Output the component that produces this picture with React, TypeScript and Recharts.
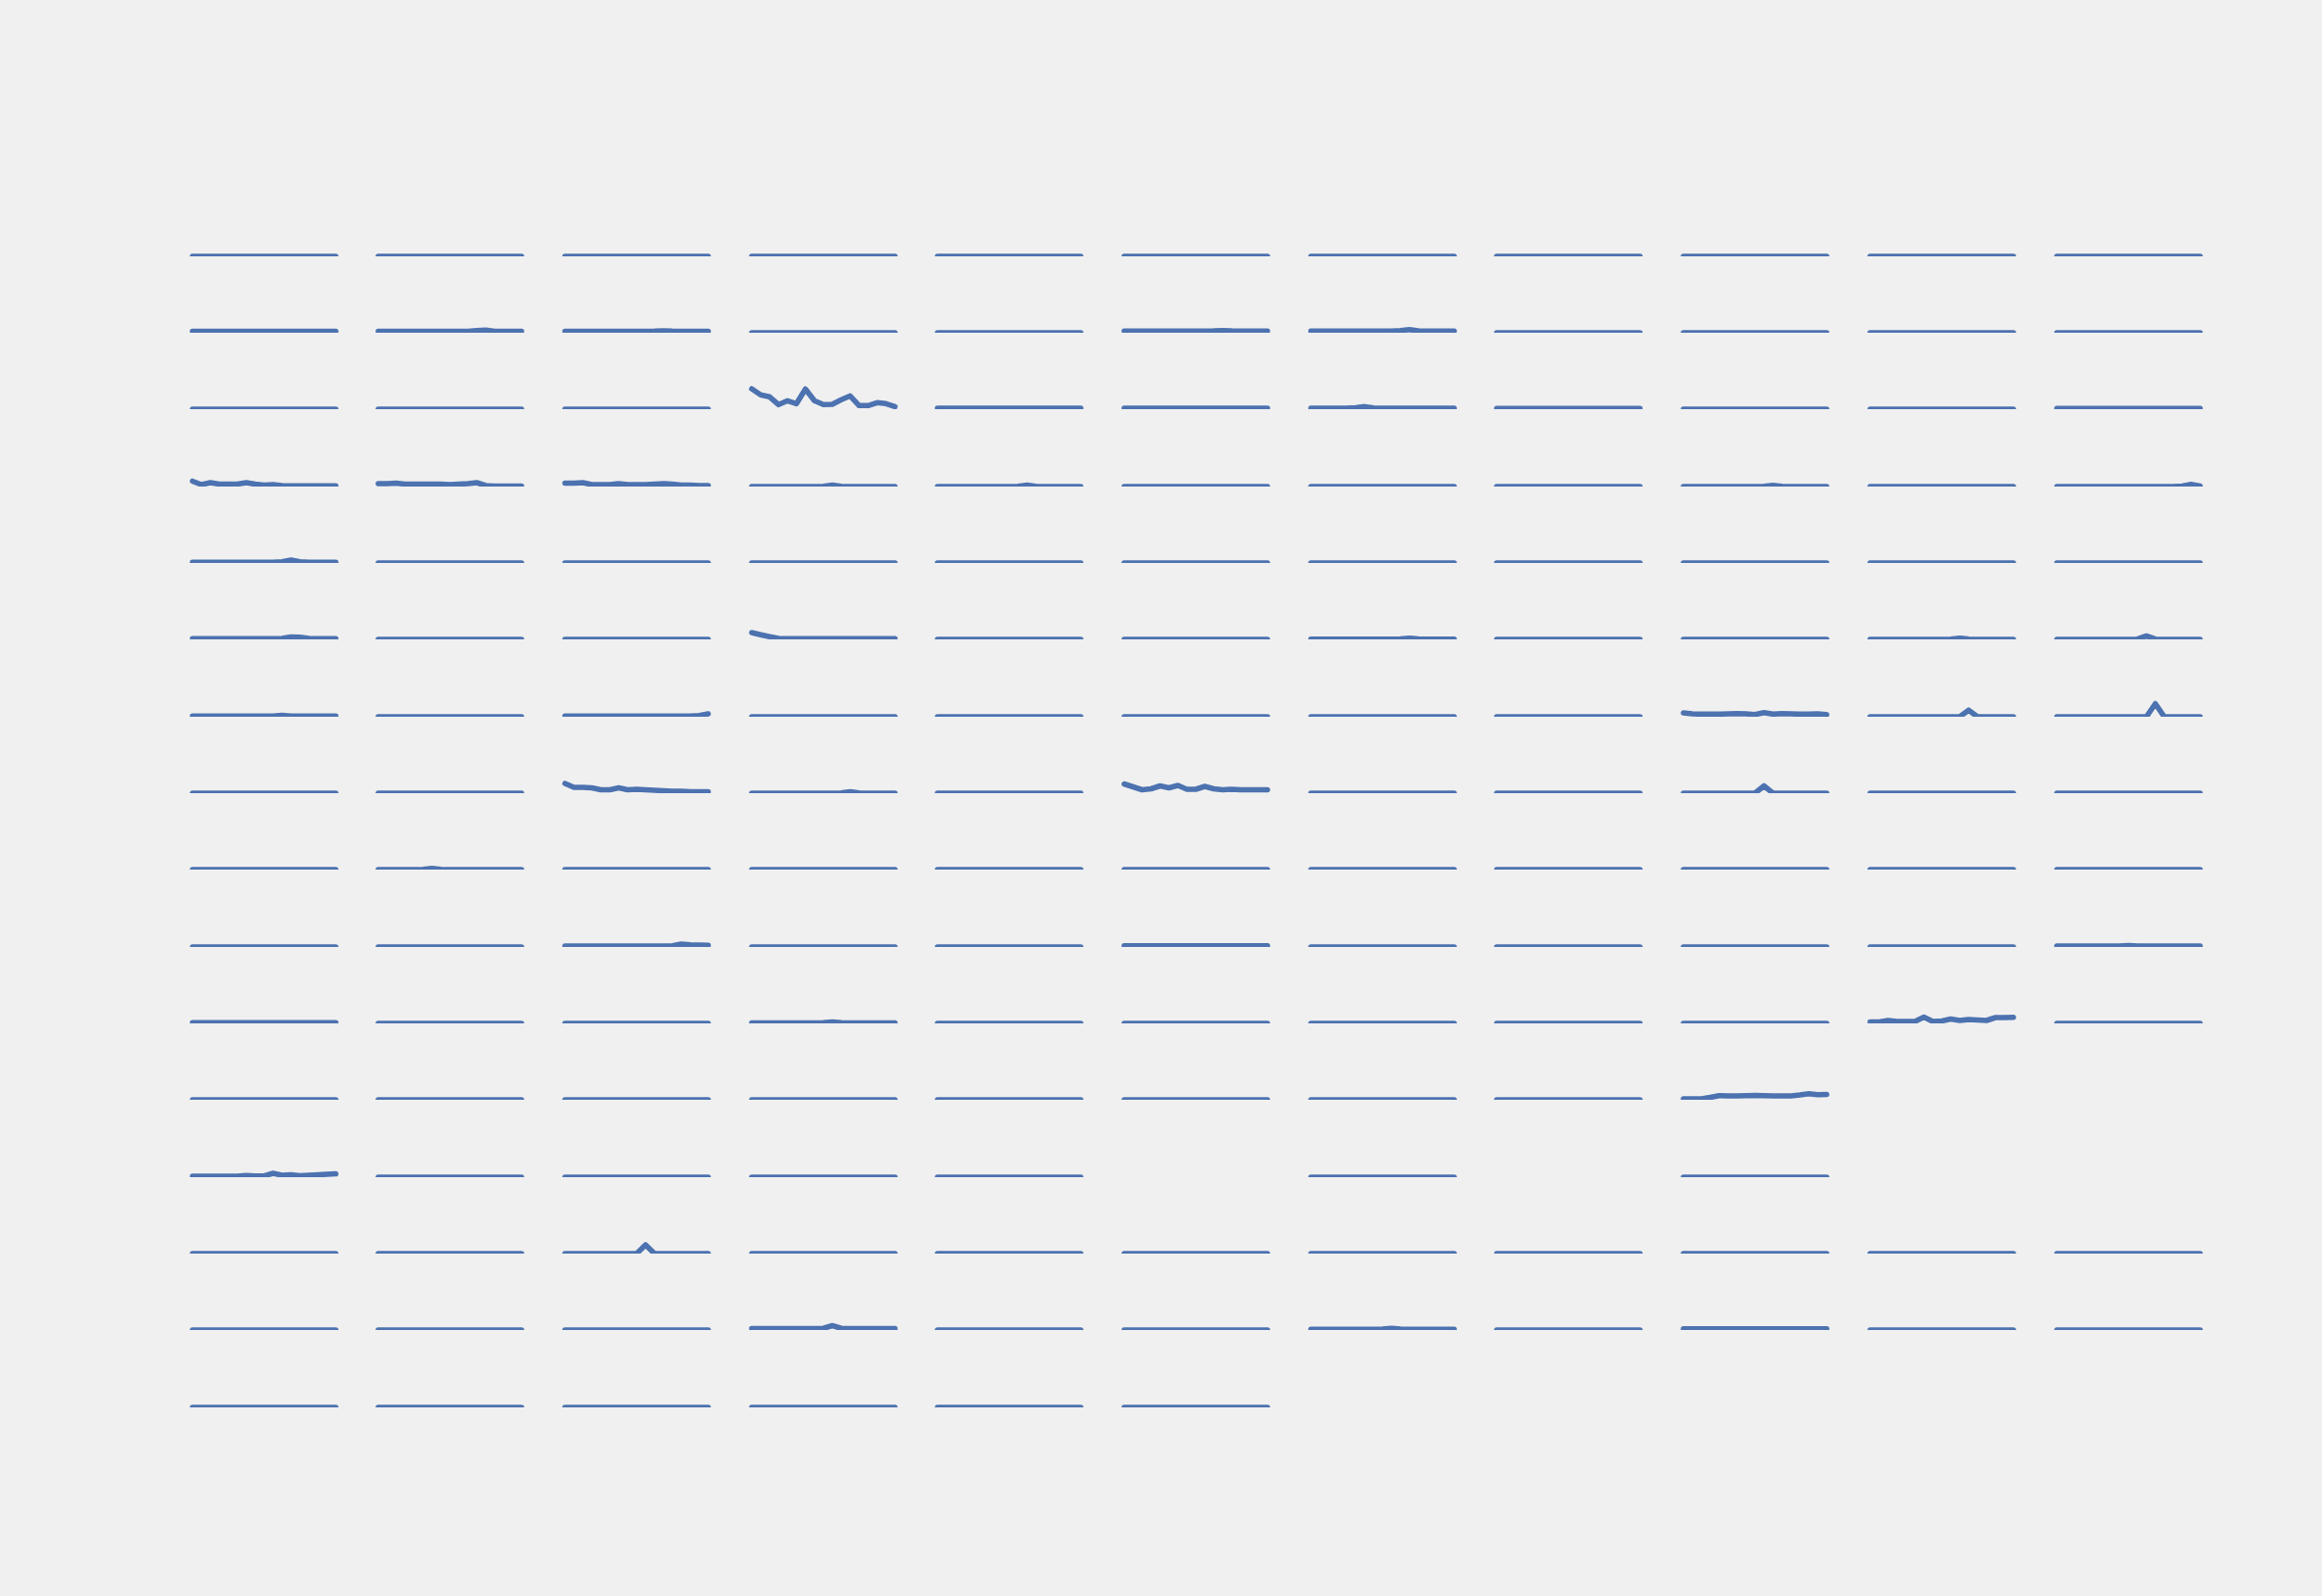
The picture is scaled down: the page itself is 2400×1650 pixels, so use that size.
import React from "react";
import { LineChart, Line, XAxis, YAxis } from "recharts";

// 17 samples per sparkline, shared y scale (0..24)
const STEPS = [0, 1, 2, 3, 4, 5, 6, 7, 8, 9, 10, 11, 12, 13, 14, 15, 16];
const Y_MAX = 24;

const ZERO = [0, 0, 0, 0, 0, 0, 0, 0, 0, 0, 0, 0, 0, 0, 0, 0, 0];
const FLAT_08 = [0.8, 0.8, 0.8, 0.8, 0.8, 0.8, 0.8, 0.8, 0.8, 0.8, 0.8, 0.8, 0.8, 0.8, 0.8, 0.8, 0.8];
const FLAT_1 = [1, 1, 1, 1, 1, 1, 1, 1, 1, 1, 1, 1, 1, 1, 1, 1, 1];
const FLAT_12 = [1.2, 1.2, 1.2, 1.2, 1.2, 1.2, 1.2, 1.2, 1.2, 1.2, 1.2, 1.2, 1.2, 1.2, 1.2, 1.2, 1.2];
const FLAT_15 = [1.5, 1.5, 1.5, 1.5, 1.5, 1.5, 1.5, 1.5, 1.5, 1.5, 1.5, 1.5, 1.5, 1.5, 1.5, 1.5, 1.5];

const r2c2 = [1.5, 1.5, 1.5, 1.5, 1.5, 1.5, 1.5, 1.5, 1.5, 1.5, 1.5, 2.2, 2.8, 1.5, 1.5, 1.5, 1.5];
const r2c3 = [1.5, 1.5, 1.5, 1.5, 1.5, 1.5, 1.5, 1.5, 1.5, 1.5, 1.6, 2, 1.6, 1.5, 1.5, 1.5, 1.5];
const r2c6 = [1.8, 1.8, 1.8, 1.8, 1.8, 1.8, 1.8, 1.8, 1.8, 1.8, 1.9, 2.3, 1.9, 1.8, 1.8, 1.8, 1.8];
const r2c7 = [1.8, 1.8, 1.8, 1.8, 1.8, 1.8, 1.8, 1.8, 1.8, 1.8, 2.2, 3.2, 2, 1.8, 1.8, 1.8, 1.8];
const r3c4 = [21, 14.7, 12.7, 4.7, 8.7, 5.7, 20.7, 8.7, 4.7, 5, 9.7, 13.7, 3.7, 3.7, 6.7, 5.7, 2.7];
const r3c7 = [1, 1, 1, 1, 1, 1.4, 2.6, 1.2, 1, 1, 1, 1, 1, 1, 1, 1, 1];
const r4c1 = [5.5, 2, 4, 2.5, 2.5, 2.5, 4, 2.5, 1.5, 2, 1, 0.7, 0.7, 0.7, 0.7, 0.7, 0.7];
const r4c2 = [3, 3, 3.5, 2.5, 2.5, 2.5, 2.5, 2.5, 2, 2.5, 3, 4, 1, 0.5, 0.5, 0.5, 0.5];
const r4c3 = [3.5, 3.5, 4, 2, 2, 2, 3, 2, 2, 2, 2.5, 3, 2.5, 1.5, 1.5, 1, 1];
const r4c4 = [0, 0, 0, 0, 0, 0, 0, 0, 0.3, 1.5, 0.3, 0, 0, 0, 0, 0, 0];
const r4c5 = [0, 0, 0, 0, 0, 0, 0, 0, 0, 0.3, 1.5, 0.3, 0, 0, 0, 0, 0];
const r4c9 = [0, 0, 0, 0, 0, 0, 0, 0, 0, 0.3, 1.3, 0.3, 0, 0, 0, 0, 0];
const r4c11 = [0, 0, 0, 0, 0, 0, 0, 0, 0, 0, 0, 0, 0, 0, 0.5, 2.2, 0.5];
const r5c1 = [0.7, 0.7, 0.7, 0.7, 0.7, 0.7, 0.7, 0.7, 0.7, 0.7, 1.2, 3, 1.2, 0.7, 0.7, 0.7, 0.7];
const r6c1 = [0.7, 0.7, 0.7, 0.7, 0.7, 0.7, 0.7, 0.7, 0.7, 0.7, 1, 2.5, 2.3, 0.9, 0.7, 0.7, 0.7];
const r6c4 = [7, 4.8, 2.8, 1, 0.8, 0.8, 0.8, 0.8, 0.8, 0.8, 0.8, 0.8, 0.8, 0.8, 0.8, 0.8, 0.8];
const r6c7 = [0.3, 0.3, 0.3, 0.3, 0.3, 0.3, 0.3, 0.3, 0.3, 0.3, 0.5, 1.2, 0.5, 0.3, 0.3, 0.3, 0.3];
const r6c10 = [0, 0, 0, 0, 0, 0, 0, 0, 0, 0.3, 1.3, 0.3, 0, 0, 0, 0, 0];
const r6c11 = [0, 0, 0, 0, 0, 0, 0, 0, 0, 0.3, 3.5, 0.3, 0, 0, 0, 0, 0];
const r7c1 = [0.6, 0.6, 0.6, 0.6, 0.6, 0.6, 0.6, 0.6, 0.6, 0.8, 1.5, 0.8, 0.6, 0.6, 0.6, 0.6, 0.6];
const r7c3 = [0.8, 0.8, 0.8, 0.8, 0.8, 0.8, 0.8, 0.8, 0.8, 0.8, 0.8, 0.8, 0.8, 0.8, 0.8, 1.2, 3];
const r7c9 = [4, 3, 2.7, 2.7, 2.7, 3, 3.3, 3, 2.3, 4.3, 2.7, 3.3, 3, 2.7, 2.7, 3, 2.3];
const r7c10 = [0, 0, 0, 0, 0, 0, 0, 0, 0, 0, 0, 6.8, 0, 0, 0, 0, 0];
const r7c11 = [0, 0, 0, 0, 0, 0, 0, 0, 0, 0, 0, 13.5, 0, 0, 0, 0, 0];
const r8c3 = [10, 6, 6, 5.5, 3.5, 3.5, 5.5, 3.5, 4, 3.5, 3, 2.5, 2, 2, 1.5, 1.5, 1.5];
const r8c4 = [0, 0, 0, 0, 0, 0, 0, 0, 0, 0, 0.3, 1.5, 0.3, 0, 0, 0, 0];
const r8c6 = [9.5, 6.5, 3.5, 4.5, 7.5, 5.5, 8, 4, 4, 7, 4.5, 3.5, 4, 3.5, 3.5, 3.5, 3.5];
const r8c9 = [0, 0, 0, 0, 0, 0, 0, 0, 0, 7.5, 0, 0, 0, 0, 0, 0, 0];
const r9c2 = [0, 0, 0, 0, 0, 0.3, 1.2, 0.3, 0, 0, 0, 0, 0, 0, 0, 0, 0];
const r10c3 = [1, 1, 1, 1, 1, 1, 1, 1, 1, 1, 1, 1, 1.3, 3, 2.2, 2, 1.8];
const r10c11 = [1, 1, 1, 1, 1, 1, 1, 1, 1.4, 1, 1, 1, 1, 1, 1, 1, 1];
const r11c4 = [0.5, 0.5, 0.5, 0.5, 0.5, 0.5, 0.5, 0.5, 0.7, 1.5, 0.7, 0.5, 0.5, 0.5, 0.5, 0.5, 0.5];
const r11c10 = [1.5, 1.5, 3, 2, 2, 2, 6.5, 2, 2.5, 4.5, 3, 4, 3.5, 3, 6, 6, 6.3];
const r12c9 = [1, 1, 1, 2.5, 4.3, 4, 4, 4.3, 4.5, 4.3, 4, 4, 4, 5, 6.3, 5.3, 5.5];
const r13c1 = [1, 1, 1, 1, 1, 1, 1.8, 1.3, 1.3, 4, 2, 2.5, 1.5, 2, 2.5, 3, 3.5];
const r14c3 = [0, 0, 0, 0, 0, 0, 0, 0, 0, 9, 0, 0, 0, 0, 0, 0, 0];
const r15c4 = [1.5, 1.5, 1.5, 1.5, 1.5, 1.5, 1.5, 1.5, 1.7, 4.5, 1.7, 1.5, 1.5, 1.5, 1.5, 1.5, 1.5];
const r15c7 = [0.8, 0.8, 0.8, 0.8, 0.8, 0.8, 0.8, 0.8, 0.9, 1.8, 0.9, 0.8, 0.8, 0.8, 0.8, 0.8, 0.8];

const SERIES: Record<string, number[]> = {
    ZERO, FLAT_08, FLAT_1, FLAT_12, FLAT_15,
    r2c2, r2c3, r2c6, r2c7, r3c4, r3c7,
    r4c1, r4c2, r4c3, r4c4, r4c5, r4c9, r4c11,
    r5c1, r6c1, r6c4, r6c7, r6c10, r6c11,
    r7c1, r7c3, r7c9, r7c10, r7c11,
    r8c3, r8c4, r8c6, r8c9, r9c2,
    r10c3, r10c11, r11c4, r11c10, r12c9, r13c1,
    r14c3, r15c4, r15c7,
};

const Z = "ZERO";
// which series sits in each cell of the 16 x 11 grid (null = empty cell)
const GRID: (string | null)[][] = [
    [Z, Z, Z, Z, Z, Z, Z, Z, Z, Z, Z],
    ["FLAT_15", "r2c2", "r2c3", Z, Z, "r2c6", "r2c7", Z, Z, Z, Z],
    [Z, Z, Z, "r3c4", "FLAT_1", "FLAT_1", "r3c7", "FLAT_08", Z, Z, "FLAT_08"],
    ["r4c1", "r4c2", "r4c3", "r4c4", "r4c5", Z, Z, Z, "r4c9", Z, "r4c11"],
    ["r5c1", Z, Z, Z, Z, Z, Z, Z, Z, Z, Z],
    ["r6c1", Z, Z, "r6c4", Z, Z, "r6c7", Z, Z, "r6c10", "r6c11"],
    ["r7c1", Z, "r7c3", Z, Z, Z, Z, Z, "r7c9", "r7c10", "r7c11"],
    [Z, Z, "r8c3", "r8c4", Z, "r8c6", Z, Z, "r8c9", Z, Z],
    [Z, "r9c2", Z, Z, Z, Z, Z, Z, Z, Z, Z],
    [Z, Z, "r10c3", Z, Z, "FLAT_12", Z, Z, Z, Z, "r10c11"],
    ["FLAT_08", Z, Z, "r11c4", Z, Z, Z, Z, Z, "r11c10", Z],
    [Z, Z, Z, Z, Z, Z, Z, Z, "r12c9", null, null],
    ["r13c1", Z, Z, Z, Z, null, Z, null, Z, null, null],
    [Z, Z, "r14c3", Z, Z, Z, Z, Z, Z, Z, Z],
    [Z, Z, Z, "r15c4", Z, Z, "r15c7", Z, "FLAT_12", Z, Z],
    [Z, Z, Z, Z, Z, Z, null, null, null, null, null],
];

const X0 = 198.5;
const COL_STEP = 192.7;
const Y0 = 264.5;
const ROW_STEP = 79.35;
const PLOT_W = 148;
const PAD = 6;
const COLOR = "#4C72B0";

function Spark({ values, left, top }: { values: number[]; left: number; top: number }) {
    const data = STEPS.map((i) => ({ i, v: values[i] }));
    return (
        <div style={{ position: "absolute", left, top }}>
            <LineChart
                width={PLOT_W + 2 * PAD}
                height={Y_MAX + PAD}
                data={data}
                margin={{ top: PAD, right: PAD, bottom: 0, left: PAD }}
            >
                <XAxis dataKey="i" hide />
                <YAxis hide domain={[0, Y_MAX]} />
                <Line
                    type="linear"
                    dataKey="v"
                    stroke={COLOR}
                    strokeWidth={5.6}
                    strokeLinecap="round"
                    strokeLinejoin="round"
                    dot={false}
                    activeDot={false}
                    isAnimationActive={false}
                />
            </LineChart>
        </div>
    );
}

export default function App() {
    return (
        <div
            style={{
                position: "absolute",
                left: 0,
                top: 0,
                width: 2400,
                height: 1650,
                background: "#F0F0F0",
                overflow: "hidden",
            }}
        >
            {GRID.map((row, r) =>
                row.map((key, c) =>
                    key ? (
                        <Spark
                            key={`${r}-${c}`}
                            values={SERIES[key]}
                            left={X0 + COL_STEP * c - PAD}
                            top={Y0 + ROW_STEP * r - (Y_MAX + PAD)}
                        />
                    ) : null
                )
            )}
        </div>
    );
}
